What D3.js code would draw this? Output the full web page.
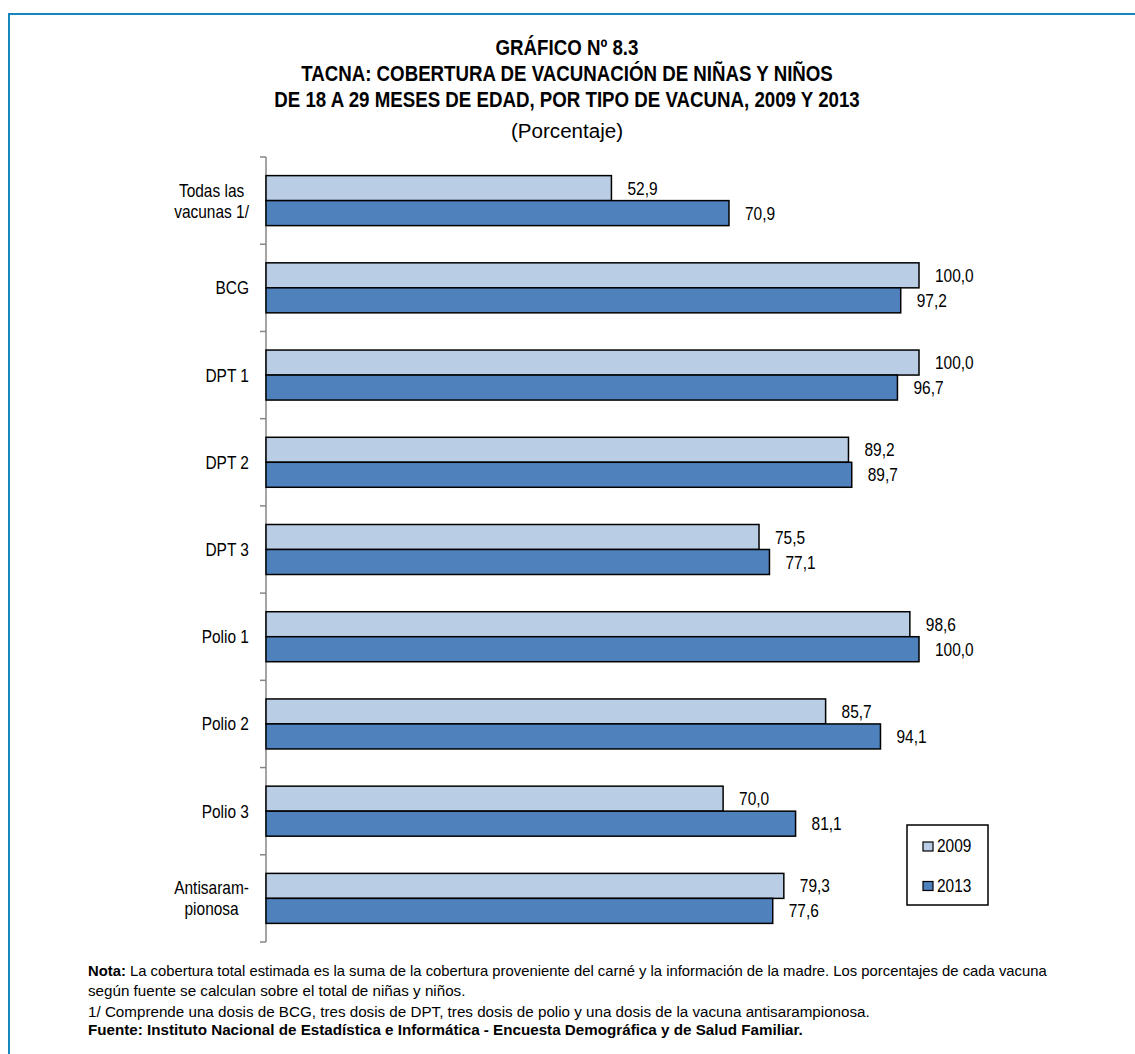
<!DOCTYPE html>
<html>
<head>
<meta charset="utf-8">
<script src="https://cdnjs.cloudflare.com/ajax/libs/d3/7.8.5/d3.min.js"></script>
<style>
  body { margin: 0; background: #fff; }
  svg text { font-family: "Liberation Sans Narrow", "Arial Narrow", "Liberation Sans", Arial, sans-serif; fill: #000; }
</style>
</head>
<body>
<svg id="chart" width="1135" height="1054"></svg>
<script>
// datos del grafico
var categorias = ["Todas las\nvacunas 1/", "BCG", "DPT 1", "DPT 2", "DPT 3", "Polio 1", "Polio 2", "Polio 3", "Antisaram-\npionosa"];
var series = ["2009", "2013"];
var valores2009 = [52.9, 100.0, 100.0, 89.2, 75.5, 98.6, 85.7, 70.0, 79.3];
var valores2013 = [70.9, 97.2, 96.7, 89.7, 77.1, 100.0, 94.1, 81.1, 77.6];
var colores = ["#b9cde5", "#4f81bd"];

var titulo = ["GRÁFICO Nº 8.3",
  "TACNA: COBERTURA DE VACUNACIÓN DE NIÑAS Y NIÑOS",
  "DE 18 A 29 MESES DE EDAD, POR TIPO DE VACUNA, 2009 Y 2013"];

var svg = d3.select("#chart");

// sin Arial Narrow: se estrecha la letra con scale(x)
var estrecho = 0.86;
function texto(padre, x, y, s, tam, esc, ancla, negrita) {
  var t = padre.append("g")
    .attr("transform", "translate(" + x + "," + y + ") scale(" + esc + ",1)")
    .append("text")
    .attr("text-anchor", ancla || "start")
    .style("font-size", tam + "px")
    .text(s);
  if (negrita) t.style("font-weight", "bold");
  return t;
}

// marco azul
svg.append("path")
  .attr("d", "M9,1054 L9,14 L1135,14")
  .attr("fill", "none")
  .attr("stroke", "#1687ba")
  .attr("stroke-width", 2);

// titulo
titulo.forEach(function(t, i) {
  texto(svg, 567, 55 + i * 26, t, 22, 0.85, "middle", true);
});
texto(svg, 567, 138, "(Porcentaje)", 21, 0.98, "middle");

var x = d3.scaleLinear().domain([0, 100]).range([266, 919]);
var y0 = d3.scaleBand().domain(categorias).range([157, 942]);
var grupo = 50;
var y1 = d3.scaleBand().domain(series)
  .range([(y0.bandwidth() - grupo) / 2, (y0.bandwidth() + grupo) / 2]);

var datos = categorias.map(function(c, i) {
  return { cat: c, vals: [valores2009[i], valores2013[i]] };
});

// eje vertical con marcas entre categorias
svg.append("line")
  .attr("x1", x(0)).attr("x2", x(0))
  .attr("y1", y0.range()[0]).attr("y2", y0.range()[1])
  .attr("stroke", "#868686").attr("stroke-width", 1.5);
var marcas = categorias.map(function(c) { return y0(c); }).concat([y0.range()[1]]);
svg.selectAll(".marca")
  .data(marcas)
  .enter().append("line")
  .attr("class", "marca")
  .attr("x1", x(0) - 6).attr("x2", x(0))
  .attr("y1", function(d) { return d; })
  .attr("y2", function(d) { return d; })
  .attr("stroke", "#868686").attr("stroke-width", 1.5);

var g = svg.selectAll(".grupo")
  .data(datos)
  .enter().append("g")
  .attr("class", "grupo")
  .attr("transform", function(d) { return "translate(0," + y0(d.cat) + ")"; });

g.selectAll("rect")
  .data(function(d) { return d.vals; })
  .enter().append("rect")
  .attr("x", x(0))
  .attr("y", function(d, i) { return y1(series[i]); })
  .attr("width", function(d) { return x(d) - x(0); })
  .attr("height", y1.bandwidth())
  .attr("fill", function(d, i) { return colores[i]; })
  .attr("stroke", "#000")
  .attr("stroke-width", 1.5);

// valores al final de cada barra
g.each(function(d) {
  var gg = d3.select(this);
  d.vals.forEach(function(v, i) {
    texto(gg, x(v) + 16, y1(series[i]) + y1.bandwidth() / 2 + 6.5,
      v.toFixed(1).replace(".", ","), 18, estrecho);
  });
});

// etiquetas de categorias
g.each(function(d) {
  var lineas = d.cat.split("\n");
  var cy = y0.bandwidth() / 2;
  var caja = d3.select(this).append("g");
  var t = caja.append("text")
    .style("font-size", "18px")
    .attr("text-anchor", "middle");
  lineas.forEach(function(l, i) {
    t.append("tspan")
      .attr("y", cy + 6.5 + (i - (lineas.length - 1) / 2) * 21)
      .text(l);
  });
  var ancho = 0;
  t.selectAll("tspan").each(function() { ancho = Math.max(ancho, this.getComputedTextLength()); });
  t.selectAll("tspan").attr("x", 0);
  caja.attr("transform", "translate(" + (249 - ancho * estrecho / 2) + ",0) scale(" + estrecho + ",1)");
});

// leyenda
svg.append("rect")
  .attr("x", 907).attr("y", 825).attr("width", 81).attr("height", 80)
  .attr("fill", "#fff").attr("stroke", "#000").attr("stroke-width", 1.5);
var ley = svg.selectAll(".ley")
  .data(series)
  .enter().append("g")
  .attr("class", "ley")
  .attr("transform", function(d, i) { return "translate(923," + (842 + i * 39.5) + ")"; });
ley.append("rect")
  .attr("width", 10).attr("height", 9)
  .attr("fill", function(d, i) { return colores[i]; })
  .attr("stroke", "#000").attr("stroke-width", 1.2);
ley.each(function(d) {
  texto(d3.select(this), 14, 10, d, 18, estrecho);
});

// notas
var notas = svg.append("g").style("font-size", "15.2px").style("white-space", "pre");
var n1 = notas.append("g").attr("transform", "translate(88,976) scale(0.976,1)")
  .append("text");
n1.append("tspan").style("font-weight", "bold").text("Nota:");
n1.append("tspan").text(" La cobertura total estimada es la suma de la cobertura proveniente del carné y la información de la madre. Los porcentajes de cada vacuna");
notas.append("text").attr("x", 88).attr("y", 996)
  .text("según fuente se calculan sobre el total de niñas y niños.");
notas.append("text").attr("x", 88).attr("y", 1017)
  .text("1/  Comprende una dosis de BCG, tres dosis de DPT, tres dosis de polio y una dosis de la vacuna antisarampionosa.");
notas.append("text").attr("x", 88).attr("y", 1035)
  .style("font-weight", "bold")
  .text("Fuente: Instituto Nacional de Estadística e Informática - Encuesta Demográfica y de Salud Familiar.");
</script>
</body>
</html>
